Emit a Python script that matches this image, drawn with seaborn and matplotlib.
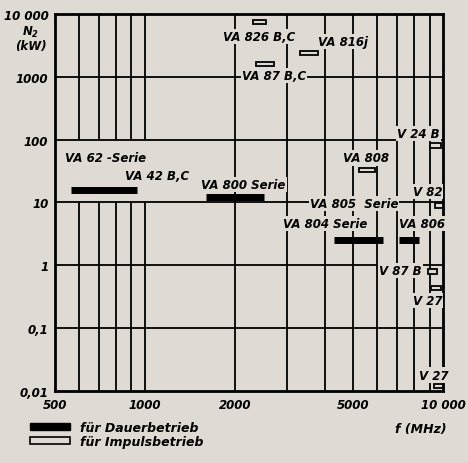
import numpy as np
import pandas as pd
import matplotlib.pyplot as plt
import seaborn as sns
from matplotlib.patches import Rectangle, Patch

# Dauerbetrieb (cw) tubes: black bars
cw_tube = ["VA 62 / VA 42 B,C", "VA 800", "VA 804 / VA 805", "VA 806"]
cw_f_lo = [565, 1600, 4300, 7100]
cw_f_hi = [940, 2500, 6300, 8300]
cw_power = [16, 12, 2.5, 2.5]

# Impulsbetrieb (pulsed) tubes: open bars
pulse_tube = ["VA 826 B,C", "VA 87 B,C", "VA 816j", "VA 808", "V 24 B", "V 82", "V 87 B", "V 27", "V 27 "]
pulse_f_lo = [2300, 2350, 3300, 5200, 9000, 9400, 8900, 9100, 9300]
pulse_f_hi = [2550, 2700, 3800, 5900, 9800, 9950, 9500, 9800, 9950]
pulse_power = [7500, 1600, 2400, 33, 80, 9, 0.8, 0.44, 0.012]

# text labels on the chart
label_text = ["VA 62 -Serie", "VA 42 B,C", "VA 800 Serie", "VA 826 B,C", "VA 87 B,C", "VA 816j",
              "V 24 B", "VA 808", "V 82", "VA 805  Serie", "VA 804 Serie", "VA 806",
              "V 87 B", "V 27", "V 27"]
label_f = [540, 860, 1545, 1830, 2110, 3790, 7000, 4630, 7900, 3570, 2900, 7100, 6100, 7900, 8300]
label_n = [51, 27, 19.5, 4400, 1040, 3670, 125, 51, 15, 9.5, 4.6, 4.6, 0.83, 0.28, 0.018]

x_ticks = [500, 1000, 2000, 5000, 10000]
x_ticklabels = ["500", "1000", "2000", "5000", "10 000"]
y_ticks = [0.01, 0.1, 1, 10, 100, 1000, 10000]
y_ticklabels = ["0,01", "0,1", "1", "10", "100", "1000", "10 000"]

bg = "#dfdad4"
sns.set_style("white")
plt.rcParams["font.family"] = ["Liberation Sans Narrow", "DejaVu Sans"]
plt.rcParams["font.weight"] = "bold"
plt.rcParams["font.style"] = "italic"
plt.rcParams["text.color"] = "black"
plt.rcParams["xtick.color"] = "black"
plt.rcParams["ytick.color"] = "black"

fig = plt.figure(figsize=(4.68, 4.64), dpi=100, facecolor=bg)
ax = fig.add_axes([0.118, 0.155, 0.829, 0.813], facecolor=bg)
ax.set_xscale("log")
ax.set_yscale("log")
ax.set_xlim(500, 10000)
ax.set_ylim(0.01, 10000)

# grid: decade lines and selected vertical lines
for y in [0.1, 1, 10, 100, 1000]:
    ax.axhline(y, color="black", lw=1.3, zorder=1)
for x in [600, 700, 800, 900, 1000]:
    ax.vlines(x, 0.01, 10, color="black", lw=1.3, zorder=1)
    ax.vlines(x, 100, 10000, color="black", lw=1.3, zorder=1)
for x in [2000, 3000, 4000, 5000, 6000, 7000, 8000, 9000]:
    ax.axvline(x, color="black", lw=1.3, zorder=1)

# black bars via seaborn
cw = pd.DataFrame({
    "tube": cw_tube * 2,
    "f": cw_f_lo + cw_f_hi,
    "N": cw_power * 2,
})
sns.lineplot(data=cw, x="f", y="N", units="tube", estimator=None, color="black",
             lw=5, solid_capstyle="butt", ax=ax, zorder=5, legend=False)

# open bars
h = 0.035
for lo, hi, n in zip(pulse_f_lo, pulse_f_hi, pulse_power):
    ax.add_patch(Rectangle((lo, n * 10 ** -h), hi - lo, n * (10 ** h - 10 ** -h),
                           facecolor=bg, edgecolor="black", lw=1.3, zorder=5))

for t, f, n in zip(label_text, label_f, label_n):
    ax.text(f, n, t, ha="left", va="center", fontsize=8.5, zorder=3, color="black",
            bbox=dict(facecolor=bg, edgecolor="none", pad=0.8))

ax.set_xticks(x_ticks)
ax.set_xticklabels(x_ticklabels)
ax.set_yticks(y_ticks)
ax.set_yticklabels(y_ticklabels)
ax.minorticks_off()
ax.tick_params(length=0, labelsize=8.5, pad=5, labelcolor="black")
ax.set_xlabel("")
ax.set_ylabel("")
for s in ax.spines.values():
    s.set_linewidth(2)
    s.set_color("black")

fig.text(0.065, 0.915, "N$_2$\n(kW)", ha="center", va="center", fontsize=8.5, linespacing=1.0)
fig.text(0.955, 0.075, "f (MHz)", ha="right", va="center", fontsize=9)

handles = [Patch(facecolor="black", edgecolor="black"),
           Patch(facecolor=bg, edgecolor="black", lw=1.2)]
fig.legend(handles, ["für Dauerbetrieb", "für Impulsbetrieb"], loc="upper left",
           bbox_to_anchor=(0.05, 0.105), frameon=False, fontsize=9,
           handlelength=3.2, handleheight=0.5, labelspacing=0.1, handletextpad=0.8,
           borderpad=0)

fig.savefig("out.png", dpi=100, facecolor=bg)
